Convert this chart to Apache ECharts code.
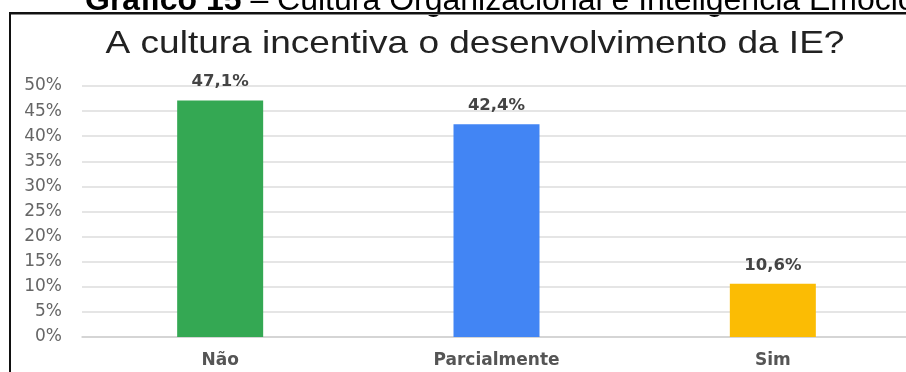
<!DOCTYPE html>
<html>
<head>
<meta charset="utf-8">
<script src="https://cdn.jsdelivr.net/npm/echarts@6/dist/echarts.min.js"></script>
<style>
html,body{margin:0;padding:0;background:#fff;overflow:hidden;}
#chart{width:915px;height:372px;}
</style>
</head>
<body>
<div id="chart"></div>
<script>
const categories = ['Não', 'Parcialmente', 'Sim'];
const values = [47.1, 42.4, 10.6];
const yTicks = [0, 5, 10, 15, 20, 25, 30, 35, 40, 45, 50];
const titleText = 'A cultura incentiva o desenvolvimento da IE?';
const captionBold = 'Gráfico 15';
const captionRest = ' – Cultura Organizacional e Inteligência Emocional';

const palette = ['#34A853', '#4285F4', '#FBBC04'];

const chart = echarts.init(document.getElementById('chart'), null, {renderer: 'canvas'});
chart.setOption({
  animation: false,
  backgroundColor: '#fff',
  grid: {left: 82, right: 4, top: 86, bottom: 35, containLabel: false},
  xAxis: {
    type: 'category',
    data: categories,
    axisLine: {show: true, lineStyle: {color: '#cfcfcf', width: 1.5}},
    axisTick: {show: false},
    axisLabel: {
      color: '#555', fontSize: 17, fontWeight: 'bold',
      fontFamily: 'DejaVu Sans', margin: 15
    }
  },
  yAxis: {
    type: 'value',
    min: yTicks[0],
    max: yTicks[yTicks.length - 1],
    interval: yTicks[1] - yTicks[0],
    axisLine: {show: false},
    axisTick: {show: false},
    splitLine: {lineStyle: {color: '#dcdcdc', width: 1.5}},
    axisLabel: {
      formatter: '{value}%', color: '#666', fontSize: 17,
      fontFamily: 'DejaVu Sans', margin: 20
    }
  },
  series: [{
    type: 'bar',
    barWidth: 86,
    data: values.map((v, i) => ({value: v, itemStyle: {color: palette[i]}})),
    label: {
      show: true, position: 'top', distance: 10,
      color: '#444', fontSize: 16.5, fontWeight: 'bold', fontFamily: 'DejaVu Sans',
      formatter: p => p.value.toFixed(1).replace('.', ',') + '%'
    }
  }],
  graphic: [
    {type: 'rect', shape: {x: 9, y: 12, width: 910, height: 2}, style: {fill: '#111'}, z: 10},
    {type: 'rect', shape: {x: 9, y: 14, width: 910, height: 1}, style: {fill: '#888'}, z: 10},
    {type: 'rect', shape: {x: 9, y: 12, width: 2, height: 370}, style: {fill: '#111'}, z: 10},
    {
      type: 'text', x: 85, y: 17, z: 9,
      style: {
        text: '{b|' + captionBold + '}{r|' + captionRest + '}',
        verticalAlign: 'bottom',
        rich: {
          b: {fontFamily: 'Liberation Sans', fontWeight: 'bold', fontSize: 32, fill: '#000'},
          r: {fontFamily: 'Liberation Sans', fontSize: 32, fill: '#000'}
        }
      }
    },
    {
      type: 'text', x: 475, y: 44, z: 10, scaleX: 1.157,
      style: {
        text: titleText, fontFamily: 'Liberation Sans', fontSize: 32, fill: '#222',
        align: 'center', verticalAlign: 'middle'
      }
    }
  ]
});
</script>
</body>
</html>
